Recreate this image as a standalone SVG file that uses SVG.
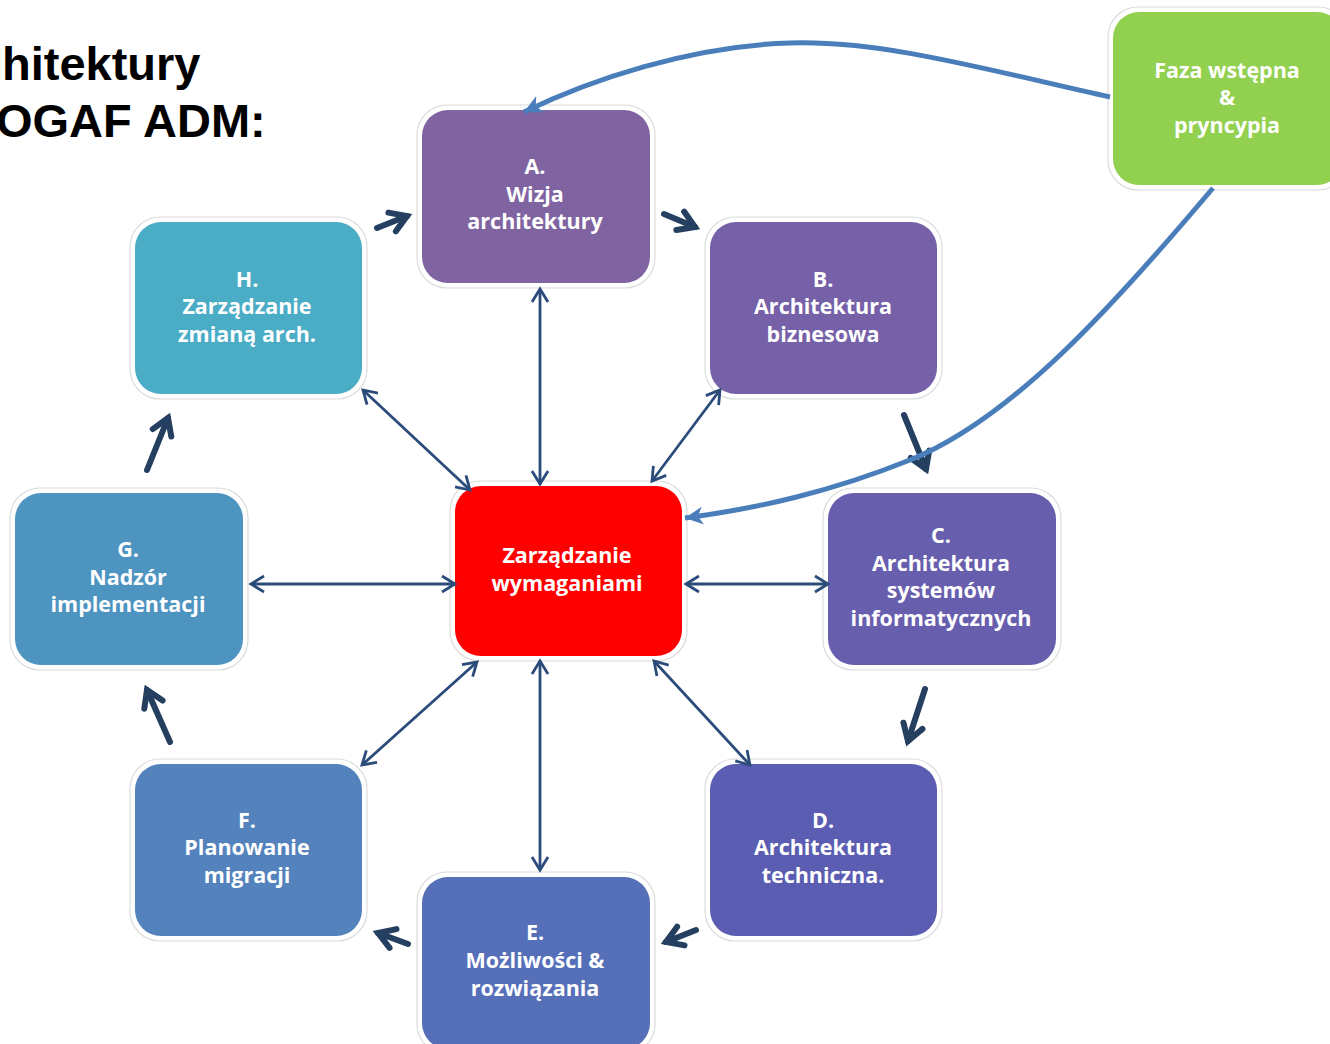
<svg xmlns="http://www.w3.org/2000/svg" width="1330" height="1044" viewBox="0 0 1330 1044">
<style>
.title{font-family:"Liberation Sans",Arial,sans-serif;font-weight:bold;font-size:47px;fill:#000}
.halo{fill:#fff;stroke:#dcdcdc;stroke-width:1.2}
.lbl{font-family:"Open Sans","Noto Sans","DejaVu Sans",sans-serif;font-weight:700;font-size:21.5px;fill:#fff;text-anchor:middle}
.rel{fill:none;stroke:#2b4c7a;stroke-width:2.8}
.cyc{fill:none;stroke:#243f60;stroke-width:6;stroke-linecap:round}
.blue{fill:none;stroke:#4a7ebb;stroke-width:5}
</style>
<defs>
<marker id="oh" viewBox="0 0 20 20" refX="17" refY="10" markerWidth="20" markerHeight="20" markerUnits="userSpaceOnUse" orient="auto-start-reverse">
<path d="M4,2 L17,10 L4,18" fill="none" stroke="#2b4c7a" stroke-width="2.8" stroke-linejoin="miter"/>
</marker>
<marker id="ch" viewBox="0 0 30 30" refX="24" refY="15" markerWidth="30" markerHeight="30" markerUnits="userSpaceOnUse" orient="auto">
<path d="M8,5 L24,15 L8,25" fill="none" stroke="#243f60" stroke-width="6" stroke-linecap="round" stroke-linejoin="miter"/>
</marker>
<marker id="bh" viewBox="0 0 24 24" refX="20" refY="12" markerWidth="24" markerHeight="24" markerUnits="userSpaceOnUse" orient="auto">
<path d="M2,3 L20,12 L2,21 L7,12 Z" fill="#4a7ebb"/>
</marker>
</defs>
<text class="title" x="2" y="80">hitektury</text>
<text class="title" x="-4" y="137">OGAF ADM:</text>
<g id="node-faza"><rect class="halo" x="1108" y="7" width="240" height="183" rx="30"/><rect x="1113" y="12" width="230" height="173" rx="26" fill="#92d050"/><text class="lbl"><tspan x="1227" y="78">Faza wstępna</tspan><tspan x="1227" y="105">&amp;</tspan><tspan x="1227" y="133">pryncypia</tspan></text></g>
<g id="node-a"><rect class="halo" x="417" y="105" width="238" height="183" rx="30"/><rect x="422" y="110" width="228" height="173" rx="26" fill="#8064a2"/><text class="lbl"><tspan x="535" y="174">A.</tspan><tspan x="535" y="202">Wizja</tspan><tspan x="535" y="229">architektury</tspan></text></g>
<g id="node-b"><rect class="halo" x="705" y="217" width="237" height="182" rx="30"/><rect x="710" y="222" width="227" height="172" rx="26" fill="#7660a8"/><text class="lbl"><tspan x="823" y="287">B.</tspan><tspan x="823" y="314">Architektura</tspan><tspan x="823" y="342">biznesowa</tspan></text></g>
<g id="node-c"><rect class="halo" x="823" y="488" width="238" height="182" rx="30"/><rect x="828" y="493" width="228" height="172" rx="26" fill="#675eae"/><text class="lbl"><tspan x="941" y="543">C.</tspan><tspan x="941" y="571">Architektura</tspan><tspan x="941" y="598">systemów</tspan><tspan x="941" y="626">informatycznych</tspan></text></g>
<g id="node-d"><rect class="halo" x="705" y="759" width="237" height="182" rx="30"/><rect x="710" y="764" width="227" height="172" rx="26" fill="#5a5db1"/><text class="lbl"><tspan x="823" y="828">D.</tspan><tspan x="823" y="855">Architektura</tspan><tspan x="823" y="883">techniczna.</tspan></text></g>
<g id="node-e"><rect class="halo" x="417" y="872" width="238" height="182" rx="30"/><rect x="422" y="877" width="228" height="172" rx="26" fill="#556fb8"/><text class="lbl"><tspan x="535" y="940">E.</tspan><tspan x="535" y="968">Możliwości &amp;</tspan><tspan x="535" y="996">rozwiązania</tspan></text></g>
<g id="node-f"><rect class="halo" x="130" y="759" width="237" height="182" rx="30"/><rect x="135" y="764" width="227" height="172" rx="26" fill="#5482bd"/><text class="lbl"><tspan x="247" y="828">F.</tspan><tspan x="247" y="855">Planowanie</tspan><tspan x="247" y="883">migracji</tspan></text></g>
<g id="node-g"><rect class="halo" x="10" y="488" width="238" height="182" rx="30"/><rect x="15" y="493" width="228" height="172" rx="26" fill="#4e94c1"/><text class="lbl"><tspan x="128" y="557">G.</tspan><tspan x="128" y="585">Nadzór</tspan><tspan x="128" y="612">implementacji</tspan></text></g>
<g id="node-h"><rect class="halo" x="130" y="217" width="237" height="182" rx="30"/><rect x="135" y="222" width="227" height="172" rx="26" fill="#4bacc6"/><text class="lbl"><tspan x="247" y="287">H.</tspan><tspan x="247" y="314">Zarządzanie</tspan><tspan x="247" y="342">zmianą arch.</tspan></text></g>
<g id="node-center"><rect class="halo" x="450" y="481" width="237" height="180" rx="30"/><rect x="455" y="486" width="227" height="170" rx="26" fill="#ff0000"/><text class="lbl"><tspan x="567" y="563">Zarządzanie</tspan><tspan x="567" y="591">wymaganiami</tspan></text></g>
<g id="connectors">
<line class="rel" x1="540" y1="289" x2="540" y2="484" marker-start="url(#oh)" marker-end="url(#oh)"/>
<line class="rel" x1="363" y1="390" x2="470" y2="490" marker-start="url(#oh)" marker-end="url(#oh)"/>
<line class="rel" x1="720" y1="390" x2="652" y2="481" marker-start="url(#oh)" marker-end="url(#oh)"/>
<line class="rel" x1="251" y1="584" x2="455" y2="584" marker-start="url(#oh)" marker-end="url(#oh)"/>
<line class="rel" x1="686" y1="584" x2="828" y2="584" marker-start="url(#oh)" marker-end="url(#oh)"/>
<line class="rel" x1="477" y1="662" x2="362" y2="765" marker-start="url(#oh)" marker-end="url(#oh)"/>
<line class="rel" x1="540" y1="661" x2="540" y2="870" marker-start="url(#oh)" marker-end="url(#oh)"/>
<line class="rel" x1="654" y1="661" x2="750" y2="765" marker-start="url(#oh)" marker-end="url(#oh)"/>
<line class="cyc" x1="377" y1="228" x2="407" y2="216" marker-end="url(#ch)"/>
<line class="cyc" x1="664" y1="214" x2="695" y2="227" marker-end="url(#ch)"/>
<line class="cyc" x1="904" y1="415" x2="926" y2="469" marker-end="url(#ch)"/>
<line class="cyc" x1="925" y1="689" x2="908" y2="741" marker-end="url(#ch)"/>
<line class="cyc" x1="696" y1="930" x2="666" y2="942" marker-end="url(#ch)"/>
<line class="cyc" x1="408" y1="944" x2="378" y2="933" marker-end="url(#ch)"/>
<line class="cyc" x1="170" y1="742" x2="147" y2="690" marker-end="url(#ch)"/>
<line class="cyc" x1="147" y1="470" x2="168" y2="418" marker-end="url(#ch)"/>
<path class="blue" d="M1110,97 C980,68 880,40 790,43 C690,46 590,80 524,112" marker-end="url(#bh)"/>
<path class="blue" d="M1213,188 C1110,310 1010,420 910,460 C830,492 760,508 685,518" marker-end="url(#bh)"/>
</g>
</svg>
